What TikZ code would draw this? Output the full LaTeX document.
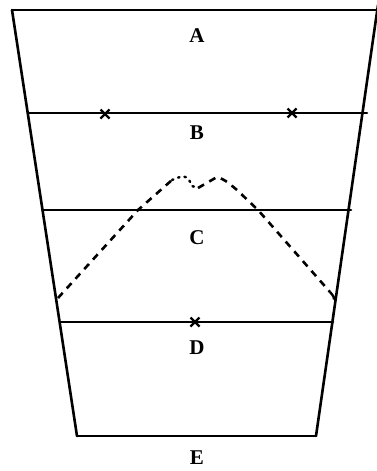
\documentclass[tikz,border=0pt]{standalone}
\usepackage{fontspec}
\setmainfont{Liberation Serif}
\begin{document}
\begin{tikzpicture}[x=1pt,y=-1pt,
  edge/.style={line width=2.6pt, line cap=round},
  lbl/.style={font=\fontsize{21}{21}\selectfont\bfseries, inner sep=0pt},
  xmark/.style={line width=2.4pt},
  curve/.style={line width=2.6pt, dash pattern=on 7pt off 6pt}]
\useasboundingbox (0,0) rectangle (377,471);
% corners
\coordinate (tl) at (12,10);
\coordinate (tr) at (377,10);
\coordinate (bl) at (28,113);
\coordinate (br) at (367,113);
\coordinate (cl) at (43,210);
\coordinate (cr) at (351,210);
\coordinate (dl) at (60,322);
\coordinate (dr) at (333,322);
\coordinate (el) at (77,436);
\coordinate (er) at (316,436);
\coordinate (rt) at (378,5);
% outline
\draw[edge] (tl) -- (tr);
\draw[edge] (tl) -- (el);
\draw[edge] (rt) -- (er);
\draw[edge] (bl) -- (br);
\draw[edge] (cl) -- (cr);
\draw[edge] (dl) -- (dr);
\draw[edge] (el) -- (er);
% labels
\node[lbl] (A) at (197,36) {A};
\node[lbl] (B) at (197,133) {B};
\node[lbl] (C) at (197,238) {C};
\node[lbl] (D) at (197,348) {D};
\node[lbl] (E) at (197,458) {E};
% crosses
\coordinate (x1) at (105,114);
\coordinate (x2) at (292,113);
\coordinate (x3) at (195,322);
\foreach \n in {x1,x2,x3}{
  \draw[xmark] ([shift={(-4.5,-4.5)}]\n) -- ([shift={(4.5,4.5)}]\n);
  \draw[xmark] ([shift={(-4.5,4.5)}]\n) -- ([shift={(4.5,-4.5)}]\n);
}
% dashed curve
\coordinate (c0) at (58,298);
\coordinate (c1) at (138,210);
\coordinate (c2) at (172,180);
\coordinate (c3) at (198,188);
\coordinate (c4) at (217,177);
\coordinate (c5) at (258,210);
\coordinate (c6) at (333,298);
\draw[curve] (c0) -- (c1) -- (c2);
\draw[line width=2.4pt, dash pattern=on 1.5pt off 5pt, line cap=round] (c2) .. controls (185,174) and (188,176) .. (192,186) -- (c3);
\draw[curve] (c3) -- (c4) .. controls (225,180) .. (237,190) -- (c5) -- (330,292);
\draw[line width=2.4pt] (330,292) .. controls (334,296) and (335,300) .. (c6);
\end{tikzpicture}
\end{document}
